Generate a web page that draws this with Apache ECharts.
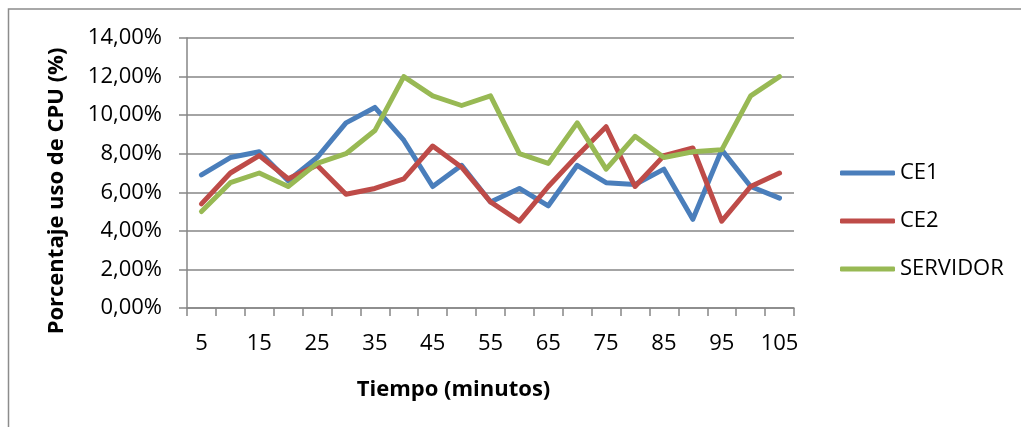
<!DOCTYPE html>
<html>
<head>
<meta charset="utf-8">
<script src="https://cdn.jsdelivr.net/npm/echarts@6/dist/echarts.min.js"></script>
<style>
  html, body { margin: 0; padding: 0; background: #fff; }
  #chart { width: 1021px; height: 427px; }
</style>
</head>
<body>
<div id="chart"></div>
<script>
// Sampling instants (minutes)
const tiempos = [5, 10, 15, 20, 25, 30, 35, 40, 45, 50, 55, 60, 65, 70, 75, 80, 85, 90, 95, 100, 105];

// CPU usage per machine, in percent
const ce1 = [6.9, 7.8, 8.1, 6.6, 7.8, 9.6, 10.4, 8.7, 6.3, 7.4, 5.5, 6.2, 5.3, 7.4, 6.5, 6.4, 7.2, 4.6, 8.2, 6.3, 5.7];
const ce2 = [5.4, 7.0, 7.9, 6.7, 7.4, 5.9, 6.2, 6.7, 8.4, 7.3, 5.5, 4.5, 6.3, 7.9, 9.4, 6.3, 7.9, 8.3, 4.5, 6.3, 7.0];
const servidor = [5.0, 6.5, 7.0, 6.3, 7.5, 8.0, 9.2, 12.0, 11.0, 10.5, 11.0, 8.0, 7.5, 9.6, 7.2, 8.9, 7.8, 8.1, 8.2, 11.0, 12.0];

const seriesNames = ['CE1', 'CE2', 'SERVIDOR'];
const seriesColors = ['#4A7EBB', '#BE4B48', '#98B954'];

const FONT = '"Open Sans", Lato, sans-serif';
const GRID_GRAY = '#868686';

const chart = echarts.init(document.getElementById('chart'), null, { renderer: 'canvas' });

function lineSeries(name, data, color) {
  return {
    name: name,
    type: 'line',
    data: data,
    symbol: 'none',
    smooth: false,
    lineStyle: { width: 5, color: color, cap: 'round', join: 'round' },
    itemStyle: { color: color },
    emphasis: { disabled: true }
  };
}

chart.setOption({
  animation: false,
  backgroundColor: '#ffffff',
  graphic: [{
    type: 'polyline',
    shape: { points: [[8.5, 430], [8.5, 9], [1030, 9]] },
    style: { stroke: '#8c8c8c', lineWidth: 1.5, fill: null },
    silent: true
  }],
  grid: { left: 187, right: 227, top: 38, bottom: 119, containLabel: false },
  legend: {
    orient: 'vertical',
    left: 835,
    top: 157,
    itemWidth: 55,
    itemHeight: 5,
    itemGap: 26,
    icon: 'roundRect',
    data: seriesNames,
    textStyle: { fontFamily: FONT, fontSize: 22, color: '#000' },
    selectedMode: false
  },
  xAxis: {
    type: 'category',
    data: tiempos,
    boundaryGap: true,
    name: 'Tiempo (minutos)',
    nameLocation: 'middle',
    nameGap: 71,
    nameTextStyle: { fontFamily: FONT, fontSize: 22, fontWeight: 'bold', color: '#000', padding: [0, 74, 0, 0] },
    axisLine: { show: true, lineStyle: { color: GRID_GRAY, width: 1.5 } },
    axisTick: { show: true, interval: 0, length: 8, lineStyle: { color: GRID_GRAY, width: 1.5 } },
    axisLabel: { interval: 1, margin: 25, fontFamily: FONT, fontSize: 22, color: '#000' },
    splitLine: { show: false }
  },
  yAxis: {
    type: 'value',
    min: 0,
    max: 14,
    interval: 2,
    name: 'Porcentaje uso de CPU (%)',
    nameLocation: 'middle',
    nameRotate: 90,
    nameGap: 119,
    nameTextStyle: { fontFamily: FONT, fontSize: 22, fontWeight: 'bold', color: '#000', padding: [0, 36, 0, 0] },
    axisLine: { show: true, lineStyle: { color: GRID_GRAY, width: 1.5 } },
    axisTick: { show: true, length: 8, lineStyle: { color: GRID_GRAY, width: 1.5 } },
    axisLabel: {
      margin: 25,
      fontFamily: FONT,
      fontSize: 22,
      color: '#000',
      formatter: v => v.toFixed(2).replace('.', ',') + '%'
    },
    splitLine: { show: true, lineStyle: { color: GRID_GRAY, width: 1.5 } }
  },
  series: [
    lineSeries(seriesNames[0], ce1, seriesColors[0]),
    lineSeries(seriesNames[1], ce2, seriesColors[1]),
    lineSeries(seriesNames[2], servidor, seriesColors[2])
  ]
});
</script>
</body>
</html>
